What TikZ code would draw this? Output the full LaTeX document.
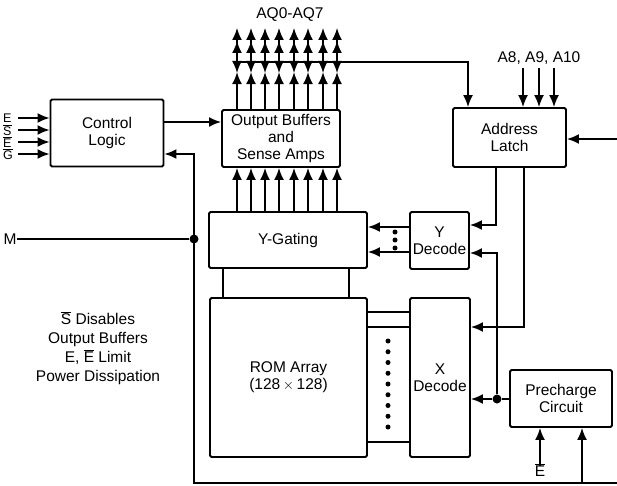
\documentclass[tikz,border=0pt]{standalone}
\usepackage{fontspec}
\setmainfont{Liberation Sans}
\usetikzlibrary{arrows.meta}
\newcommand{\ovl}[1]{$\overline{\hbox{#1}}$}

\begin{document}
\begin{tikzpicture}[
          x=1pt, y=-1pt,
          blk/.style={draw, line width=1.9pt, rounded corners=1.5pt, inner sep=0pt,
                      align=center, font=\fontsize{15.5}{17}\selectfont},
          wire/.style={line width=1.7pt},
          arr/.style={wire, -{Latex[length=12pt,width=10pt]}},
          dbl/.style={wire, -{Latex[length=12pt,width=10pt,sep=1pt]Latex[length=12pt,width=10pt]}},
          jdot/.style={circle, fill, inner sep=0pt, minimum size=9pt},
          sdot/.style={circle, fill, inner sep=0pt, minimum size=5pt},
          lbl/.style={inner sep=0pt, font=\fontsize{15.5}{19}\selectfont},
        ]
          \useasboundingbox (0,0) rectangle (617,486);

          % blocks
          \node[blk, minimum width=113pt, minimum height=67pt] (ctrl) at (107,133) {Control\\Logic};
          \node[blk, minimum width=118pt, minimum height=57pt] (obuf) at (281,138.5) {Output Buffers\\and\\Sense Amps};
          \node[blk, minimum width=113pt, minimum height=59pt] (latch) at (509.5,137.5) {Address\\Latch};
          \node[blk, minimum width=158pt, minimum height=56pt] (ygate) at (288,240) {Y-Gating};
          \node[blk, minimum width=59pt, minimum height=57pt] (ydec) at (439.5,240.5) {Y\\Decode};
          \node[blk, minimum width=157pt, minimum height=159pt] (rom) at (288.5,377.5) {ROM Array\\(128\,$\times$\,128)};
          \node[blk, minimum width=60pt, minimum height=159pt] (xdec) at (440,377.5) {X\\Decode};
          \node[blk, minimum width=102pt, minimum height=57pt] (prech) at (561,398.5) {Precharge\\Circuit};

          % labels
          \node[lbl] (aq) at (290,15) {AQ0-AQ7};
          \node[lbl] (ahi) at (539,58) {A8, A9, A10};
          \node[lbl] (m) at (10,239) {M};
          \node[lbl] (ebar) at (540,470) {\ovl{E}};
          \node[lbl, align=center] (note) at (98,348) {\ovl{S} Disables\\Output Buffers\\E, \ovl{E} Limit\\Power Dissipation};

          % control inputs
          \foreach \y/\t in {118/E, 130/\ovl{S}, 142/\ovl{E}, 154/\ovl{G}} {
            \node[inner sep=0pt, anchor=west, font=\fontsize{12.5}{12.5}\selectfont] at (3,\y) {\t};
            \coordinate (s) at (18,\y);
            \draw[arr] (s) -- (s -| ctrl.west);
          }
          \coordinate (cl) at (0,122);
          \draw[arr] (ctrl.east |- cl) -- (obuf.west |- cl);

          % data pins and bus
          \coordinate (bus) at (0,62);
          \coordinate (top) at (0,28);
          \foreach \x in {237,251,265,279,294,308,323,337} {
            \coordinate (p) at (\x,0);
            \draw[arr] (ygate.north -| p) -- (obuf.south -| p);
            \draw[arr] (obuf.north -| p) -- ++(0,-37);
            \draw[arr] (bus -| p) -- ++(0,11);
            \draw[dbl] (bus -| p) -- (top -| p);
          }
          \coordinate (bl) at (237,62);
          \coordinate (br) at (468,62);
          \draw[arr] (bl) -- (br) -- (br |- latch.north);

          % address inputs
          \foreach \x in {523,539,554} {
            \coordinate (a) at (\x,68);
            \draw[arr] (a) -- (a |- latch.north);
          }
          \coordinate (redge) at (617,139);
          \draw[arr] (redge) -- (redge -| latch.east);

          % latch to decoders
          \coordinate (ya) at (496,225);
          \draw[arr] (latch.south -| ya) -- (ya) -- (ya -| ydec.east);
          \coordinate (xa) at (524,327);
          \draw[arr] (latch.south -| xa) -- (xa) -- (xa -| xdec.east);

          % precharge
          \node[jdot] (pj) at (497,399) {};
          \draw[wire] (prech.west |- pj) -- (pj);
          \draw[arr] (pj) -- (pj -| xdec.east);
          \coordinate (yb) at (497,253);
          \draw[arr] (pj) -- (yb) -- (yb -| ydec.east);
          \draw[arr] ([yshift=-3pt]ebar.north) -- (ebar.north |- prech.south);

          % y decode to y gating
          \foreach \y in {227,252} {
            \coordinate (g) at (0,\y);
            \draw[arr] (ydec.west |- g) -- (ygate.east |- g);
          }
          \foreach \y in {232,240,248}
            \node[sdot] at (395,\y) {};

          % y gating to rom
          \foreach \x in {223,349} {
            \coordinate (c) at (\x,0);
            \draw[wire] (ygate.south -| c) -- (rom.north -| c);
          }

          % rom to x decode
          \foreach \y in {312,327,442} {
            \coordinate (r) at (0,\y);
            \draw[wire] (rom.east |- r) -- (xdec.west |- r);
          }
          \foreach \i in {0,...,8}
            \node[sdot] at (388,341+10.75*\i) {};

          % M and return loop
          \node[jdot] (mj) at (194,239) {};
          \draw[wire] (m.east) -- (mj);
          \coordinate (lb) at (194,483);
          \coordinate (rb) at (617,483);
          \coordinate (cfb) at (194,154);
          \draw[arr] (rb) -- (lb) -- (cfb) -- (cfb -| ctrl.east);
          \coordinate (pb) at (582,483);
          \draw[arr] (pb) -- (pb |- prech.south);
        \end{tikzpicture}
\end{document}
